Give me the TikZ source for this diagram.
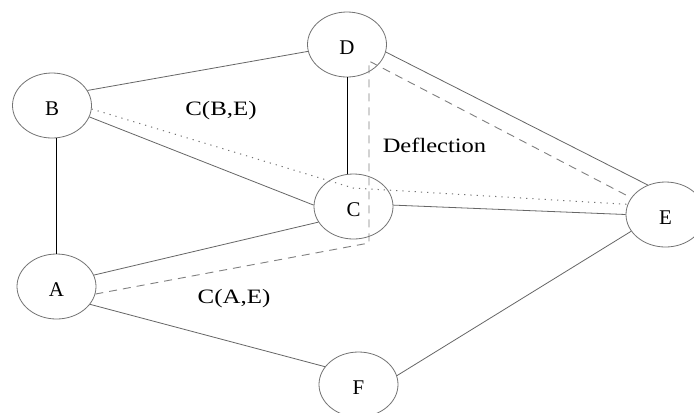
\documentclass[tikz,border=0pt]{standalone}
\usepackage{fontspec}
\setmainfont{Liberation Serif}
\usetikzlibrary{shapes.geometric}
\begin{document}
\begin{tikzpicture}[x=1bp,y=-1bp,
  vert/.style={ellipse,draw=black!55,line width=0.8bp,minimum width=79bp,minimum height=65bp,inner sep=0pt,text height=20bp,text depth=0pt,font=\fontsize{21}{23}\selectfont},
  edge/.style={draw=black!60,line width=0.8bp},
  dark/.style={draw=black,line width=0.9bp},
  dotline/.style={draw=black!55,line width=1bp,dash pattern=on 1.2bp off 5bp},
  dashline/.style={draw=black!50,line width=0.9bp,dash pattern=on 8bp off 6bp},
  lbl/.style={inner sep=0pt,font=\fontsize{20.5}{22}\selectfont}
]
\useasboundingbox[fill=white] (0,0) rectangle (694,412);
\node[vert] (B) at (52,105.5) {B};
\node[vert] (D) at (347,44.5) {D};
\node[vert] (C) at (353.5,206.5) {C};
\node[vert] (E) at (665.5,214.5) {E};
\node[vert] (A) at (56.5,286.5) {A};
\node[vert] (F) at (358.5,384.5) {F};

\draw[edge] (B.23) -- (D.190);
\draw[edge] (B.-17) -- (C.178);
\draw[dark] (A.north) -- (A.north |- B.south);
\draw[dark] (D.south) -- (D.south |- C.north);
\draw[edge] (D.-11) -- (E.121);
\draw[edge] (C.2) -- (E.180);
\draw[edge] (A.17) -- (C.204);
\draw[edge] (A.-28) -- (F.152);
\draw[edge] (F.13) -- (E.206);

\coordinate (cbe) at (353,188);
\draw[dotline] (B.-5) -- (cbe) -- (E.165);
\coordinate (d1) at (369,243);
\coordinate (d2) at (369,61);
\draw[dashline] (A.-11) -- (d1) -- (d2) -- (E.154);

\node[lbl] (lbe) at (221,111) {\scalebox{1.22}[1]{C(B,E)}};
\node[lbl] (lae) at (234,299) {\scalebox{1.22}[1]{C(A,E)}};
\node[lbl] (ldef) at (434.5,145) {\scalebox{1.2}[1]{Deflection}};
\end{tikzpicture}
\end{document}
